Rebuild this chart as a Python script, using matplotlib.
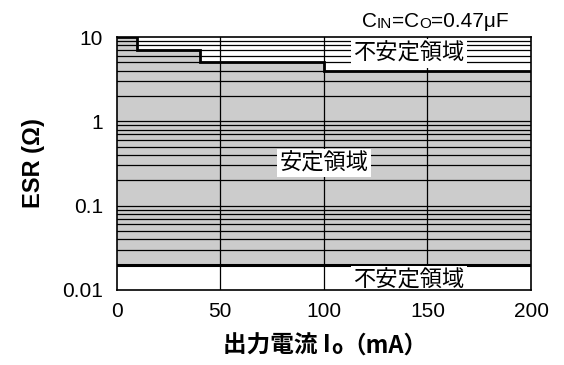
import numpy as np
import matplotlib
matplotlib.use('Agg')
import matplotlib.pyplot as plt

plt.rcParams['font.family'] = ['Liberation Sans', 'Noto Sans CJK JP', 'DejaVu Sans']

# stability boundary (upper ESR limit, step shape) vs output current
io_edges = [0, 10, 40, 100, 200]
esr_upper = [10, 7, 5, 4]
esr_lower = 0.02

x_ticks = [0, 50, 100, 150, 200]
y_ticks = [0.01, 0.1, 1, 10]
y_ticklabels = ['0.01', '0.1', '1', '10']

fig = plt.figure(figsize=(5.64, 3.65), dpi=100)
ax = fig.add_axes([0.207, 0.2055, 0.7345, 0.693])
ax.set_yscale('log')
ax.set_xlim(0, 200)
ax.set_ylim(0.01, 10)

# shaded stable region
step_x = np.repeat(io_edges, 2)[1:-1]
step_y = np.repeat(esr_upper, 2)
ax.fill_between(step_x, esr_lower, step_y, color='#cccccc', lw=0, zorder=1)

# grid: vertical lines + every log minor line above the lower limit
for xv in x_ticks[1:-1]:
    ax.axvline(xv, color='black', lw=0.9, zorder=2)
for dec in [0.01, 0.1, 1]:
    for m in range(2, 11):
        yv = dec * m
        if esr_lower < yv < 10:
            ax.axhline(yv, color='black', lw=0.9, zorder=2)

# boundaries
ax.plot(step_x, step_y, color='black', lw=2.0, zorder=3, solid_joinstyle='miter')
ax.axhline(esr_lower, color='black', lw=2.2, zorder=3)

jp = 'Noto Sans CJK JP'
box = dict(facecolor='white', edgecolor='none', pad=2)
ax.text(141, 6.4, '不安定領域', ha='center', va='center', fontsize=16,
        family=jp, bbox=box, zorder=4)
ax.text(100, 0.32, '安定領域', ha='center', va='center', fontsize=16,
        family=jp, bbox=box, zorder=4)
ax.text(141, 0.0132, '不安定領域', ha='center', va='center', fontsize=16,
        family=jp, bbox=box, zorder=4)

ax.set_xticks(x_ticks)
ax.set_yticks(y_ticks)
ax.set_yticklabels(y_ticklabels)
ax.yaxis.set_minor_locator(matplotlib.ticker.NullLocator())
ax.tick_params(length=0, labelsize=15)
ax.tick_params(axis='x', pad=9)
ax.tick_params(axis='y', pad=10)
for s in ax.spines.values():
    s.set_linewidth(1.2)
    s.set_zorder(5)

ax.set_ylabel('ESR (Ω)', fontsize=17, fontweight='bold', labelpad=12)


def chain(parts, x, y, **kw):
    # place text pieces one after another, small pieces sitting on the same bottom line
    last = fig.text(x, y, parts[0][0], fontsize=parts[0][1], ha='left', va='bottom', **kw)
    for s, size in parts[1:]:
        last = ax.annotate(s, xy=(1, 0), xycoords=last, fontsize=size,
                           ha='left', va='bottom', annotation_clip=False, **kw)
    return last


# x label: 出力電流 Io（mA） with a small "o"
chain([('出力電流 I', 17), ('o', 13), ('（mA）', 17)], 223 / 564, 0.02,
      fontweight='bold', family=[jp, 'Liberation Sans'])

# capacitor condition, small-cap "IN" and "O"
chain([('C', 15), ('IN', 11), ('=C', 15), ('O', 11), ('=0.47μF', 15)],
      362 / 564, 0.915)

fig.savefig('out.png', dpi=100)
